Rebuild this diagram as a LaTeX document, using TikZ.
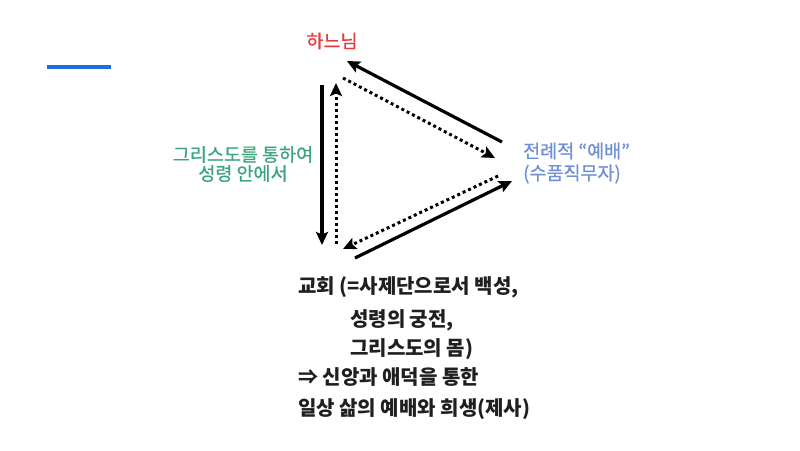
\documentclass[tikz,border=0pt]{standalone}
\usepackage{fontspec}
\setmainfont{Noto Sans CJK KR}
\newfontfamily\kr{Noto Sans CJK KR}
\newfontfamily\krmed[FakeBold=0.7]{Noto Sans CJK KR}
\usetikzlibrary{arrows.meta}
\definecolor{godred}{HTML}{E23B3B}
\definecolor{lblgreen}{HTML}{3AA57C}
\definecolor{lblblue}{HTML}{7090D6}
\definecolor{barblue}{HTML}{1A6FE0}
\tikzset{
  solidarr/.style={line width=3.2pt,-{Stealth[length=13pt,width=12pt,inset=2.5pt]}},
  dotarr/.style={line width=3pt,dash pattern=on 3pt off 3pt,-{Stealth[length=13pt,width=12pt,inset=2.5pt]}},
  lbl/.style={inner sep=0pt,font=\krmed\fontsize{18.5}{22}\selectfont},
  church/.style={inner sep=0pt,anchor=west,font=\kr\bfseries\fontsize{20}{24}\selectfont,text=black!88}
}
\begin{document}
\begin{tikzpicture}[x=1pt,y=-1pt]
\useasboundingbox (0,0) rectangle (800,450);
\fill[white] (0,0) rectangle (800,450);
% blue bar
\draw[barblue,line width=4pt] (47,67) coordinate (b1) -- (111,67) coordinate (b2);
% labels
\node[lbl,text=godred] (god) at (332,41) {하느님};
\node[lbl,text=lblgreen,align=center] (spirit) at (243,164) {그리스도를 통하여\\[-3pt]성령 안에서};
\node[lbl,text=lblblue,align=left,anchor=west] (liturgy) at (523,163) {전례적 “예배”\\[0pt](수품직무자)};
\node[church] (c1) at (298,287) {교회 (=사제단으로서 백성,};
\node[church] (c2) at (350,320) {성령의 궁전,};
\node[church] (c3) at (350,349) {그리스도의 몸)};
\node[church] (c4) at (298,377) {⇒ 신앙과 애덕을 통한};
\node[church] (c5) at (298,409) {일상 삶의 예배와 희생(제사)};
% arrow end points
\coordinate (rTop) at (502,142);
\coordinate (tR) at (347,61);
\coordinate (tRd) at (343,78);
\coordinate (rTopd) at (495,158);
\coordinate (lTop) at (322,85);
\coordinate (lBot) at (322,245);
\coordinate (ldBot) at (336,244);
\coordinate (ldTop) at (336,83);
\coordinate (rBotd) at (498,176);
\coordinate (bRd) at (343,249);
\coordinate (bR) at (355,258);
\coordinate (rBot) at (512,181);
% arrows
\draw[solidarr] (rTop) -- (tR);
\draw[dotarr] (tRd) -- (rTopd);
\draw[solidarr] (lTop) -- (lBot);
\draw[dotarr] (ldBot) -- (ldTop);
\draw[dotarr] (rBotd) -- (bRd);
\draw[solidarr] (bR) -- (rBot);
\end{tikzpicture}
\end{document}
